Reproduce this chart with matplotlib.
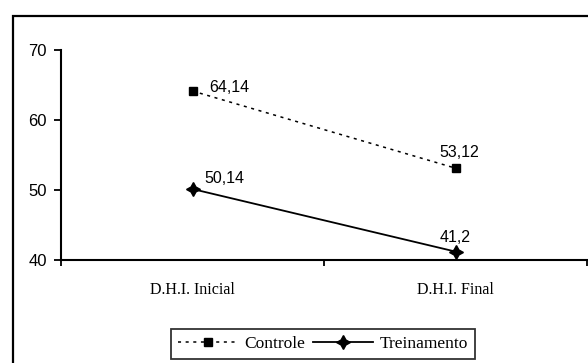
import matplotlib
matplotlib.use("Agg")
import matplotlib.pyplot as plt
from matplotlib.patches import Rectangle
from matplotlib.lines import Line2D

categories = ["D.H.I. Inicial", "D.H.I. Final"]
controle = [64.14, 53.12]
treinamento = [50.14, 41.2]
controle_labels = ["64,14", "53,12"]
treinamento_labels = ["50,14", "41,2"]
y_ticks = [40, 50, 60, 70]

W, H = 588, 363
fig = plt.figure(figsize=(W / 100, H / 100), dpi=100)

SANS = "Liberation Sans"
SERIF = "Liberation Serif"

# outer frame around the chart area
fig.patches.append(Rectangle((12.5 / W, -0.1), 1.2, (H - 15.5) / H + 0.1,
                             transform=fig.transFigure, fill=False,
                             edgecolor="black", linewidth=1.6, zorder=0))

ax = fig.add_axes([61 / W, (H - 260) / H, (587 - 61) / W, 210 / H])
x = [0.5, 1.5]

star = (4, 1, 0)
ax.plot(x, controle, color="black", linestyle=(0, (2, 3)), linewidth=1.1,
        marker="s", markersize=6, markerfacecolor="black", clip_on=False)
ax.plot(x, treinamento, color="black", linestyle="-", linewidth=1.3,
        marker=star, markersize=10, markerfacecolor="black", clip_on=False)

lbl_font = dict(family=SANS, fontsize=11.5, color="black")
ax.annotate(controle_labels[0], (x[0], controle[0]), xytext=(12, 2.5),
            textcoords="offset points", ha="left", va="center", **lbl_font)
ax.annotate(controle_labels[1], (x[1], controle[1]), xytext=(3, 11.5),
            textcoords="offset points", ha="center", va="center", **lbl_font)
ax.annotate(treinamento_labels[0], (x[0], treinamento[0]), xytext=(8.5, 7.5),
            textcoords="offset points", ha="left", va="center", **lbl_font)
ax.annotate(treinamento_labels[1], (x[1], treinamento[1]), xytext=(0, 10),
            textcoords="offset points", ha="center", va="center", **lbl_font)

ax.set_xlim(0, 2)
ax.set_ylim(40, 70)
ax.set_xticks([0, 1, 2])
ax.set_xticklabels([])
ax.set_xticks(x, minor=True)
ax.set_xticklabels(categories, minor=True, family=SERIF, fontsize=11.5)
ax.tick_params(axis="x", which="minor", length=0, pad=15.5)
ax.tick_params(axis="x", which="major", length=4, width=1.3, direction="out")
ax.set_yticks(y_ticks)
ax.set_yticklabels([str(v) for v in y_ticks], family=SANS, fontsize=12)
ax.tick_params(axis="y", length=5, width=1.3, direction="out", pad=5)

for side in ("top", "right"):
    ax.spines[side].set_visible(False)
for side in ("left", "bottom"):
    ax.spines[side].set_linewidth(1.5)
ax.patch.set_visible(False)

handles = [
    Line2D([], [], color="black", linestyle=(0, (2, 3)), linewidth=1.1,
           marker="s", markersize=6, markerfacecolor="black"),
    Line2D([], [], color="black", linestyle="-", linewidth=1.3,
           marker=star, markersize=10, markerfacecolor="black"),
]
leg = fig.legend(handles, ["Controle", "Treinamento"], ncol=2,
                 loc="center", bbox_to_anchor=(323 / W, (H - 344) / H),
                 prop={"family": "serif", "size": 12.5},
                 frameon=True, fancybox=False, handlelength=3.45,
                 columnspacing=0.46, handletextpad=0.35, borderpad=0.4)
for t in leg.get_texts():
    t.set_fontfamily(SERIF)
leg.get_frame().set_edgecolor("black")
leg.get_frame().set_linewidth(1.3)

fig.savefig("out.png", dpi=100)
